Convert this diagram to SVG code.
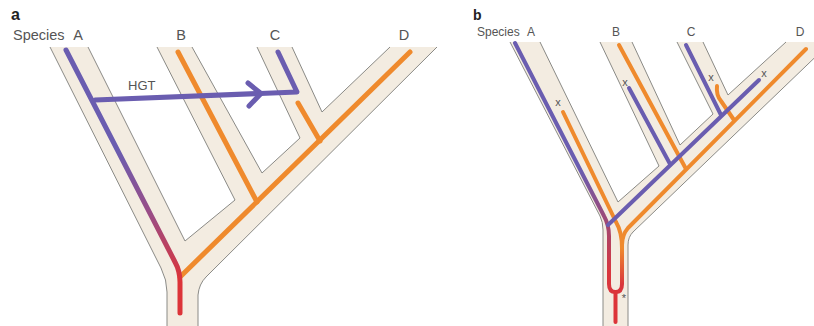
<svg xmlns="http://www.w3.org/2000/svg" width="814" height="326" viewBox="0 0 814 326">
  <style>
    .tube { fill: #f3ece1; stroke: none; }
    .edge { fill: none; stroke: #8a8a86; stroke-width: 1; stroke-linejoin: round; }
    .ln { fill: none; stroke-linecap: round; stroke-linejoin: round; }
    .pa { stroke-width: 5; }
    .pb { stroke-width: 4; }
    .pur { stroke: #6a5db0; }
    .org { stroke: #ef8a2d; }
    .red { stroke: #dc3439; }
    .lbl { font-family: "Liberation Sans", Arial, sans-serif; fill: #555; }
    .tag { font-family: "Liberation Sans", Arial, sans-serif; font-weight: bold; fill: #222; }
    .mk { font-family: "Liberation Sans", Arial, sans-serif; fill: #555; font-size: 11px; text-anchor: middle; }
  </style>
  <defs>
    <linearGradient id="gA" gradientUnits="userSpaceOnUse" x1="0" y1="150" x2="0" y2="280">
      <stop offset="0" stop-color="#6a5db0"/>
      <stop offset="0.5" stop-color="#9b4c85"/>
      <stop offset="1" stop-color="#dc3439"/>
    </linearGradient>
    <linearGradient id="gBL" gradientUnits="userSpaceOnUse" x1="0" y1="170" x2="0" y2="272">
      <stop offset="0" stop-color="#6a5db0"/>
      <stop offset="0.55" stop-color="#a4466f"/>
      <stop offset="1" stop-color="#d9363d"/>
    </linearGradient>
    <linearGradient id="gBR" gradientUnits="userSpaceOnUse" x1="0" y1="248" x2="0" y2="285">
      <stop offset="0" stop-color="#ef8a2d"/>
      <stop offset="1" stop-color="#d9363d"/>
    </linearGradient>
  </defs>

  <!-- Panel a -->
  <g id="panel-a">
    <g id="a-tree">
      <path class="tube" d="M50,47 L88,47 L185,241 L235,200 L157,47 L192,47 L262,173 L300,138 L257,47 L292,47 L322,112 L390,47 L437,47 L206,277 Q199,284 198,295 L198,326 L167,326 L167,292 Q167,280 161,268 Z"/>
      <path class="edge" d="M50,47 L161,268 Q167,280 167,292 L167,326"/>
      <path class="edge" d="M88,47 L185,241 L235,200 L157,47"/>
      <path class="edge" d="M192,47 L262,173 L300,138 L257,47"/>
      <path class="edge" d="M292,47 L322,112 L390,47"/>
      <path class="edge" d="M437,47 L206,277 Q199,284 198,295 L198,326"/>
    </g>
    <g id="a-genes">
      <path class="ln pa org" d="M180,277 L410,52"/>
      <path class="ln pa org" d="M178,52 L257,202"/>
      <path class="ln pa org" d="M298,103 L320,141"/>
      <path class="ln pa" stroke="url(#gA)" d="M66,50 L175,262 Q180,271 180,282 L180,313"/>
    </g>
    <g id="a-hgt">
      <path class="ln pa pur" d="M95,100 L297,92 L278,52"/>
      <path class="ln pa pur" d="M248,83 L261,93.5 L249,106"/>
      <text class="lbl" x="128" y="90" font-size="13">HGT</text>
    </g>
    <g id="a-labels">
      <text class="tag" x="11" y="20" font-size="16">a</text>
      <text class="lbl" x="13" y="40" font-size="14.5">Species</text>
      <text class="lbl" x="78" y="40" font-size="14.5" text-anchor="middle">A</text>
      <text class="lbl" x="181" y="40" font-size="14.5" text-anchor="middle">B</text>
      <text class="lbl" x="275" y="40" font-size="14.5" text-anchor="middle">C</text>
      <text class="lbl" x="404" y="40" font-size="14.5" text-anchor="middle">D</text>
    </g>
  </g>

  <!-- Panel b -->
  <g id="panel-b">
    <g id="b-tree">
      <path class="tube" d="M510,42 L540,42 L618,202 L659,166 L600,42 L632,42 L680,145 L713,114 L677,42 L703,42 L728,95 L786,42 L831,42 L633,232 Q628,237 628,245 L628,326 L603,326 L603,230 Q603,222 600,216 Z"/>
      <path class="edge" d="M510,42 L600,216 Q603,222 603,230 L603,326"/>
      <path class="edge" d="M540,42 L618,202 L659,166 L600,42"/>
      <path class="edge" d="M632,42 L680,145 L713,114 L677,42"/>
      <path class="edge" d="M703,42 L728,95 L786,42"/>
      <path class="edge" d="M831,42 L633,232 Q628,237 628,245 L628,326"/>
    </g>
    <g id="b-genes">
      <path class="ln pb org" d="M563,112 L616,222 Q622,232 622,248"/>
      <path class="ln pb org" d="M619,45 L686,169"/>
      <path class="ln pb org" d="M717,86 Q716,95 721,101 L734,120"/>
      <path class="ln pb" stroke="url(#gBR)" d="M806,49 L628,228 Q622,235 622,245 L622,284 Q622,292 615.5,292"/>
      <path class="ln pb" stroke="url(#gBL)" d="M515,43 L604,216 Q609,225 609,236 L609,284 Q609,292 615.5,292"/>
      <path class="ln pb red" d="M615.5,292 L615.5,322"/>
      <path class="ln pb pur" d="M629,88 L670,164"/>
      <path class="ln pb pur" d="M686,45 L721,115"/>
      <path class="ln pb pur" d="M759,80 L608,225"/>
    </g>
    <g id="b-marks">
      <text class="mk" x="558" y="106">x</text>
      <text class="mk" x="625" y="86">x</text>
      <text class="mk" x="711" y="81">x</text>
      <text class="mk" x="764" y="77">x</text>
      <text class="mk" x="624" y="302" font-size="13">*</text>
    </g>
    <g id="b-labels">
      <text class="tag" x="473" y="20" font-size="14">b</text>
      <text class="lbl" x="477" y="36" font-size="12">Species</text>
      <text class="lbl" x="531" y="36" font-size="12" text-anchor="middle">A</text>
      <text class="lbl" x="616" y="36" font-size="12" text-anchor="middle">B</text>
      <text class="lbl" x="691" y="36" font-size="12" text-anchor="middle">C</text>
      <text class="lbl" x="800" y="36" font-size="12" text-anchor="middle">D</text>
    </g>
  </g>
</svg>
